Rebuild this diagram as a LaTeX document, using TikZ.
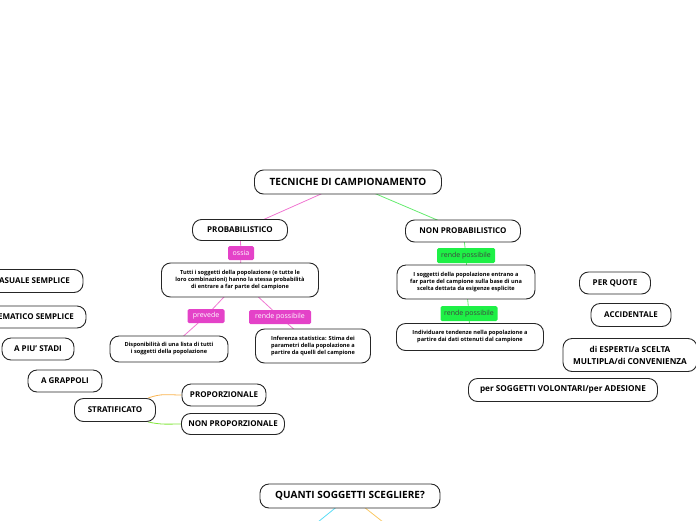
\documentclass[tikz,border=0pt]{standalone}
\usepackage{fontspec}
\setmainfont{Open Sans}
\usetikzlibrary{backgrounds}
\begin{document}
\begin{tikzpicture}[x=1pt,y=-1pt,
  box/.style={draw=black!85, line width=0.9pt, rounded corners=9pt, align=center, fill=white, inner sep=2pt, font=\bfseries\fontsize{8}{9.5}\selectfont},
  big/.style={box, font=\bfseries\fontsize{10}{12}\selectfont},
  small/.style={box, font=\bfseries\fontsize{5.6}{7}\selectfont},
  maglab/.style={fill=magentalab, text=white, rounded corners=1.5pt, inner sep=1pt, minimum height=14pt, font=\fontsize{7}{7}\selectfont},
  grnlab/.style={fill=greenlab, text=black!75, rounded corners=1.5pt, inner sep=1pt, minimum height=15pt, font=\fontsize{7}{7}\selectfont},
  pinkline/.style={draw=pinkl, line width=0.8pt},
  greenline/.style={draw=greenl, line width=0.8pt}
]
\definecolor{magentalab}{RGB}{228,66,200}
\definecolor{greenlab}{RGB}{30,240,70}
\definecolor{pinkl}{RGB}{240,120,210}
\definecolor{greenl}{RGB}{100,235,110}
\definecolor{orangel}{RGB}{250,180,80}
\definecolor{limel}{RGB}{130,230,60}
\definecolor{cyanl}{RGB}{90,220,245}
\definecolor{yell}{RGB}{250,200,100}
\useasboundingbox (0,0) rectangle (696,520);

\node[big, minimum width=187pt, minimum height=24pt] (root) at (348,182) {TECNICHE DI CAMPIONAMENTO};
\node[box, minimum width=95pt, minimum height=21pt] (prob) at (240,230) {PROBABILISTICO};
\node[box, minimum width=115pt, minimum height=22pt] (nonprob) at (463,231) {NON PROBABILISTICO};

\node[small, minimum width=157pt, minimum height=34pt] (tutti) at (240,280) {Tutti i soggetti della popolazione (e tutte le\\loro combinazioni) hanno la stessa probabilità\\di entrare a far parte del campione};
\node[small, minimum width=118pt, minimum height=26pt] (disp) at (169,349) {Disponibilità di una lista di tutti\\i soggetti della popolazione};
\node[small, minimum width=115pt, minimum height=34pt] (infer) at (313,346) {Inferenza statistica: Stima dei\\parametri della popolazione a\\partire da quelli del campione};

\node[small, minimum width=138pt, minimum height=34pt] (isogg) at (466,282) {I soggetti della popolazione entrano a\\far parte del campione sulla base di una\\scelta dettata da esigenze esplicite};
\node[small, minimum width=147pt, minimum height=27pt] (indiv) at (470,337) {Individuare tendenze nella popolazione a\\partire dai dati ottenuti dal campione};

\node[box, minimum width=102pt, minimum height=23pt] (casuale) at (32,281) {CASUALE SEMPLICE};
\node[box, minimum width=116pt, minimum height=22pt] (sistem) at (28,317) {SISTEMATICO SEMPLICE};
\node[box, minimum width=72pt, minimum height=22pt] (stadi) at (38,349) {A PIU' STADI};
\node[box, minimum width=74pt, minimum height=22pt] (grappoli) at (65,381) {A GRAPPOLI};
\node[box, minimum width=81pt, minimum height=23pt] (strat) at (115,410) {STRATIFICATO};
\node[box, minimum width=84pt, minimum height=22pt] (prop) at (224,395) {PROPORZIONALE};
\node[box, minimum width=103pt, minimum height=21pt] (nonprop) at (233,424) {NON PROPORZIONALE};

\node[box, minimum width=71pt, minimum height=22pt] (quote) at (615,283) {PER QUOTE};
\node[box, minimum width=80pt, minimum height=23pt] (accid) at (631,315) {ACCIDENTALE};
\node[box, font=\bfseries\fontsize{8.2}{12}\selectfont, minimum width=134pt, minimum height=33pt] (esperti) at (630,355) {di ESPERTI/a SCELTA\\MULTIPLA/di CONVENIENZA};
\node[box, font=\bfseries\fontsize{8.2}{9.5}\selectfont, minimum width=189pt, minimum height=23pt] (volont) at (563,390) {per SOGGETTI VOLONTARI/per ADESIONE};

\node[big, minimum width=180pt, minimum height=24pt] (quanti) at (350,496) {QUANTI SOGGETTI SCEGLIERE?};
\coordinate (q1) at (318,522);
\coordinate (q2) at (383,522);

% labels
\node[maglab, minimum width=26pt] (ossia) at (241,253) {ossia};
\node[maglab, minimum width=37pt] (prevede) at (206,316) {prevede};
\node[maglab, minimum width=62pt] (rende1) at (280,317) {rende possibile};
\node[grnlab, minimum width=58pt] (rende2) at (466,255.5) {rende possibile};
\node[grnlab, minimum width=57pt] (rende3) at (469,313.5) {rende possibile};

% connectors
\begin{scope}[on background layer]
\draw[pinkline] (root.center) -- (prob.center);
\draw[greenline] (root.center) -- (nonprob.center);
\draw[pinkline] (prob.center) -- (ossia.center);
\draw[pinkline] (ossia.center) -- (tutti.center);
\draw[pinkline] (tutti.center) -- (prevede.center);
\draw[pinkline] (prevede.center) -- (disp.center);
\draw[pinkline] (tutti.center) -- (rende1.center);
\draw[pinkline] (rende1.center) -- (infer.center);
\draw[greenline] (nonprob.center) -- (rende2.center);
\draw[greenline] (rende2.center) -- (isogg.center);
\draw[greenline] (isogg.center) -- (rende3.center);
\draw[greenline] (rende3.center) -- (indiv.center);
\draw[draw=orangel, line width=0.8pt] ([xshift=-8pt]strat.north east) .. controls +(14,-5) and +(-14,0) .. (prop.west);
\draw[draw=limel, line width=0.8pt] ([xshift=-8pt]strat.south east) .. controls +(14,3) and +(-14,0) .. (nonprop.west);
\draw[draw=cyanl, line width=0.8pt] (quanti.center) -- (q1);
\draw[draw=yell, line width=0.8pt] (quanti.center) -- (q2);
\end{scope}
\end{tikzpicture}
\end{document}
